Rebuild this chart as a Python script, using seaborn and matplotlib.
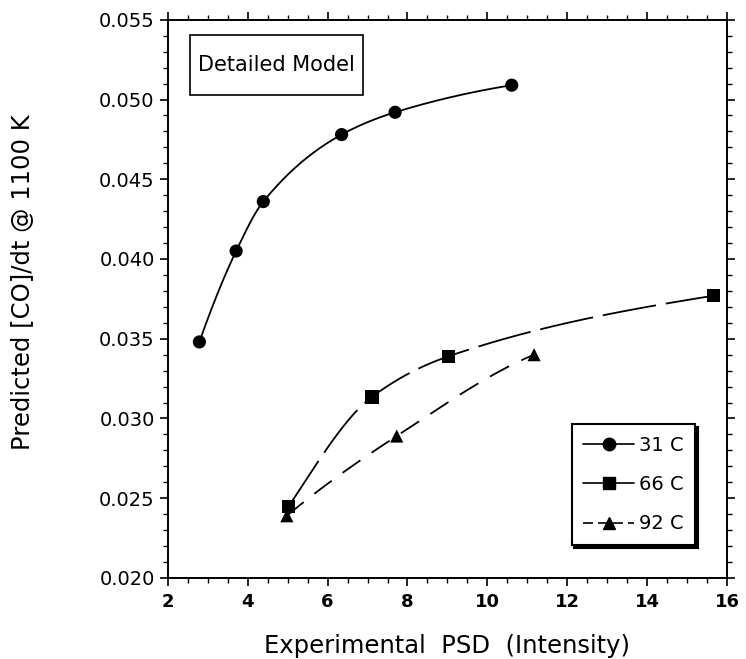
import numpy as np
import pandas as pd
import matplotlib
matplotlib.use("Agg")
import matplotlib.pyplot as plt
from matplotlib.lines import Line2D
from matplotlib.patches import Rectangle
from matplotlib.ticker import MultipleLocator, FormatStrFormatter
import seaborn as sns

# ---- data ----
x_31 = [2.79, 3.71, 4.39, 6.35, 7.69, 10.61]
y_31 = [0.0348, 0.0405, 0.0436, 0.0478, 0.0492, 0.0509]
x_66 = [5.03, 7.11, 9.03, 15.67]
y_66 = [0.0245, 0.03135, 0.0339, 0.0377]
x_92 = [4.98, 7.73, 11.17]
y_92 = [0.0239, 0.0289, 0.0340]
series_labels = ["31 C", "66 C", "92 C"]
x_ticks = [2, 4, 6, 8, 10, 12, 14, 16]
y_ticks = [0.020, 0.025, 0.030, 0.035, 0.040, 0.045, 0.050, 0.055]

sns.set_theme(style="ticks")
plt.rcParams["font.family"] = ["DejaVu Sans"]
plt.rcParams["text.color"] = "black"
plt.rcParams["axes.labelcolor"] = "black"


def pchip(x, y, n=200):
    """Monotone cubic Hermite smoothing curve through the given points."""
    x = np.asarray(x, float)
    y = np.asarray(y, float)
    h = np.diff(x)
    d = np.diff(y) / h
    m = np.zeros_like(y)
    for k in range(1, len(x) - 1):
        if d[k - 1] * d[k] > 0:
            w1 = 2 * h[k] + h[k - 1]
            w2 = h[k] + 2 * h[k - 1]
            m[k] = (w1 + w2) / (w1 / d[k - 1] + w2 / d[k])
    m[0] = d[0] * 1.15 if len(x) > 2 else d[0]
    m[-1] = d[-1] * 0.7 if len(x) > 2 else d[-1]
    xs = np.linspace(x[0], x[-1], n)
    idx = np.clip(np.searchsorted(x, xs) - 1, 0, len(x) - 2)
    t = (xs - x[idx]) / h[idx]
    h00 = 2 * t**3 - 3 * t**2 + 1
    h10 = t**3 - 2 * t**2 + t
    h01 = -2 * t**3 + 3 * t**2
    h11 = t**3 - t**2
    ys = h00 * y[idx] + h10 * h[idx] * m[idx] + h01 * y[idx + 1] + h11 * h[idx] * m[idx + 1]
    return xs, ys


pts = pd.DataFrame({
    "x": x_31 + x_66 + x_92,
    "y": y_31 + y_66 + y_92,
    "series": [series_labels[0]] * len(x_31) + [series_labels[1]] * len(x_66) + [series_labels[2]] * len(x_92),
})

curves = []
for xs_, ys_, lab in [(x_31, y_31, series_labels[0]), (x_66, y_66, series_labels[1]), (x_92, y_92, series_labels[2])]:
    cx, cy = pchip(xs_, ys_)
    curves.append(pd.DataFrame({"x": cx, "y": cy, "series": lab}))
curves = pd.concat(curves, ignore_index=True)

fig = plt.figure(figsize=(7.46, 6.59), dpi=100)
ax = fig.add_axes([0.225, 0.123, 0.7495, 0.847])

dash_map = {series_labels[0]: "", series_labels[1]: (30, 5.5), series_labels[2]: (12, 7.5)}
sns.lineplot(data=curves, x="x", y="y", style="series", dashes=dash_map,
             color="black", linewidth=1.3, sort=False, estimator=None,
             legend=False, ax=ax)
marker_map = {series_labels[0]: "o", series_labels[1]: "s", series_labels[2]: "^"}
sns.scatterplot(data=pts, x="x", y="y", style="series", markers=marker_map,
                color="black", s=90, edgecolor="black", linewidth=0,
                legend=False, ax=ax, zorder=5)

ax.set_xlim(2, 16)
ax.set_ylim(0.020, 0.055)
ax.set_xticks(x_ticks)
ax.set_yticks(y_ticks)
ax.xaxis.set_minor_locator(MultipleLocator(0.5))
ax.yaxis.set_minor_locator(MultipleLocator(0.001))
ax.yaxis.set_major_formatter(FormatStrFormatter("%.3f"))
ax.tick_params(which="both", direction="out", top=True, right=True, colors="black")
ax.tick_params(which="major", length=5.5, width=1.2)
ax.tick_params(which="minor", length=3.5, width=1.0)
ax.tick_params(axis="x", which="major", pad=5, labelsize=13)
ax.tick_params(axis="y", which="major", pad=4, labelsize=14)
for lab in ax.get_xticklabels():
    lab.set_fontweight("bold")
for sp in ax.spines.values():
    sp.set_color("black")
    sp.set_linewidth(1.4)

ax.set_xlabel("Experimental  PSD  (Intensity)", fontsize=17.5, color="black")
ax.set_ylabel("Predicted [CO]/dt @ 1100 K", fontsize=17.5, color="black")
ax.xaxis.set_label_coords(0.5, -0.1)
ax.yaxis.set_label_coords(-0.238, 0.529)

# "Detailed Model" annotation box
ax.add_patch(Rectangle((0.0394, 0.8656), 0.3095, 0.1074, transform=ax.transAxes,
                       facecolor="white", edgecolor="black", linewidth=1.2, zorder=6))
ax.text(0.194, 0.919, "Detailed Model", transform=ax.transAxes, fontsize=15,
        ha="center", va="center", color="black", zorder=7)

handles = [
    Line2D([], [], color="black", linestyle="-", linewidth=1.2, marker="o", markersize=9),
    Line2D([], [], color="black", linestyle="-", linewidth=1.2, marker="s", markersize=8),
    Line2D([], [], color="black", linestyle=(0, (6, 3)), linewidth=1.2, marker="^", markersize=9),
]
leg = ax.legend(handles, series_labels, loc="lower right", bbox_to_anchor=(0.9428, 0.059),
                fontsize=14, frameon=True, fancybox=False, shadow={"color": "black", "alpha": 1},
                handlelength=2.6, handletextpad=0.25, labelspacing=1.05, borderpad=0.6,
                borderaxespad=0)
leg.get_frame().set_edgecolor("black")
leg.get_frame().set_linewidth(1.5)
for t in leg.get_texts():
    t.set_color("black")

fig.savefig("out.png", dpi=100, facecolor="white")
